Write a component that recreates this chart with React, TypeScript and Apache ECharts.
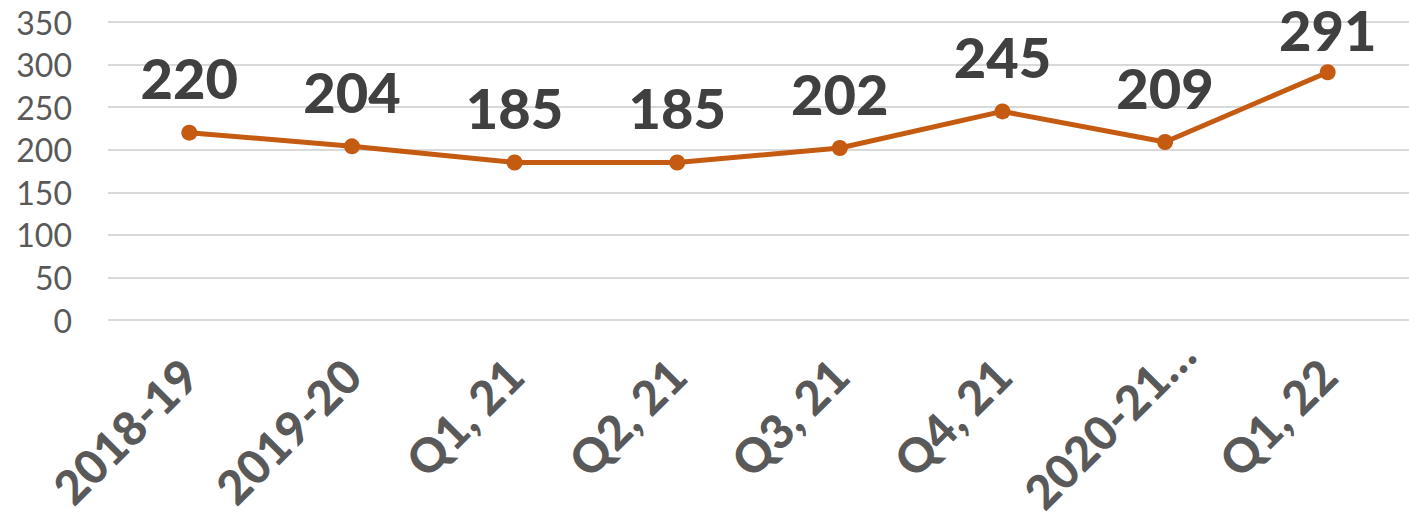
import React, { useEffect, useRef } from "react";
import * as echarts from "echarts";

const categories = ["2018-19", "2019-20", "Q1, 21", "Q2, 21", "Q3, 21", "Q4, 21", "2020-21…", "Q1, 22"];
const values = [220, 204, 185, 185, 202, 245, 209, 291];
const yTicks = { min: 0, max: 350, interval: 50 };

export default function App() {
  const ref = useRef<HTMLDivElement>(null);
  useEffect(() => {
    document.body.style.margin = "0";
    const chart = echarts.init(ref.current!, null, { renderer: "svg" });
    const lastIdx = values.length - 1;
    chart.setOption({
      animation: false,
      backgroundColor: "#ffffff",
      grid: { left: 108, right: 0, top: 22, bottom: 199, containLabel: false, outerBoundsMode: "none" },
      xAxis: {
        type: "category",
        data: categories.map((c) =>
          c.length > 7 ? { value: c, textStyle: { padding: [10, -30, -10, 0] } } : c
        ),
        boundaryGap: true,
        axisLine: { show: false },
        axisTick: { show: false },
        axisLabel: {
          rotate: 45,
          margin: 47,
          interval: 0,
          color: "#595959",
          fontFamily: "Lato",
          fontWeight: 900,
          fontSize: 47,
        },
      },
      yAxis: {
        type: "value",
        min: yTicks.min,
        max: yTicks.max,
        interval: yTicks.interval,
        axisLine: { show: false },
        axisTick: { show: false },
        splitLine: { lineStyle: { color: "#d9d9d9", width: 2 } },
        axisLabel: {
          margin: 36,
          color: "#595959",
          fontFamily: "Lato",
          fontSize: 32,
        },
      },
      series: [
        {
          type: "line",
          data: values.map((v, i) =>
            i === lastIdx ? { value: v, label: { offset: [0, 12] } } : v
          ),
          symbol: "circle",
          symbolSize: 16,
          lineStyle: { color: "#C55A11", width: 5 },
          itemStyle: { color: "#C55A11" },
          label: {
            show: true,
            position: "top",
            distance: 22,
            lineHeight: 50,
            color: "#404040",
            fontFamily: "Lato",
            fontWeight: 900,
            fontSize: 56,
          },
        },
      ],
    });
    return () => chart.dispose();
  }, []);
  return <div ref={ref} style={{ width: 1409, height: 519 }} />;
}
